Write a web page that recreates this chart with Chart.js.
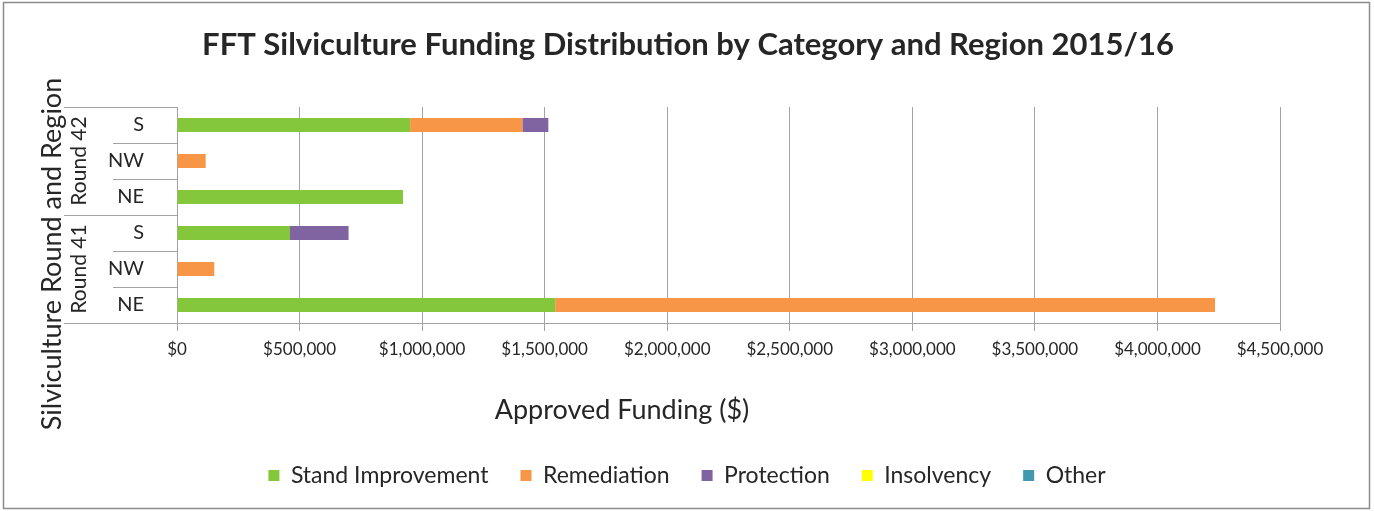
<!DOCTYPE html>
<html>
<head>
<meta charset="utf-8">
<script src="https://cdn.jsdelivr.net/npm/chart.js@4/dist/chart.umd.min.js"></script>
<style>
  body { margin: 0; background: #fff; }
  #wrap { position: relative; width: 1374px; height: 511px; }
</style>
</head>
<body>
<div id="wrap"><canvas id="fundingChart"></canvas></div>
<script>
// rows from top to bottom
const regions = ["S", "NW", "NE", "S", "NW", "NE"];
const rounds = ["Round 42", "Round 42", "Round 42", "Round 41", "Round 41", "Round 41"];

const standImprovement = [951000, 0, 922000, 461000, 0, 1543000];
const remediation = [458000, 117000, 0, 0, 152000, 2692000];
const protection = [106000, 0, 0, 239000, 0, 0];
const insolvency = [0, 0, 0, 0, 0, 0];
const other = [0, 0, 0, 0, 0, 0];

const tickMax = 4500000;
const tickStep = 500000;

const font = "Lato, 'Open Sans', sans-serif";
const textColor = "#262626";
const lineColor = "#a3a3a3";

// group labels, separators, titles and frame
const decorPlugin = {
    id: "decor",
    afterDraw(chart) {
        const ctx = chart.ctx;
        const area = chart.chartArea;
        const y = chart.scales.y;
        const rowH = (area.bottom - area.top) / regions.length;

        ctx.save();
        ctx.strokeStyle = "#8c8c8c";
        ctx.lineWidth = 1.5;
        ctx.strokeRect(3.5, 2.5, 1366, 506);

        ctx.strokeStyle = lineColor;
        ctx.lineWidth = 1;
        // row separators
        for (let i = 0; i <= regions.length; i++) {
            const py = Math.round(y.getPixelForValue(i) - rowH / 2) + 0.5;
            const isGroupEdge = i === 0 || i === regions.length || rounds[i] !== rounds[i - 1];
            ctx.beginPath();
            ctx.moveTo(isGroupEdge ? 64 : 113, py);
            ctx.lineTo(area.left, py);
            ctx.stroke();
        }

        // round labels
        ctx.fillStyle = textColor;
        ctx.textAlign = "center";
        ctx.textBaseline = "middle";
        ctx.font = "21px " + font;
        const groups = [...new Set(rounds)];
        groups.forEach(g => {
            const idx = rounds.map((r, i) => r === g ? i : -1).filter(i => i >= 0);
            const cy = (y.getPixelForValue(idx[0]) + y.getPixelForValue(idx[idx.length - 1])) / 2;
            ctx.save();
            ctx.translate(79, cy);
            ctx.rotate(-Math.PI / 2);
            ctx.fillText(g, 0, 0);
            ctx.restore();
        });

        // y axis title
        ctx.font = "27px " + font;
        ctx.save();
        ctx.translate(52, 254);
        ctx.rotate(-Math.PI / 2);
        ctx.fillText("Silviculture Round and Region", 0, 0);
        ctx.restore();

        // x axis title
        ctx.font = "27px " + font;
        ctx.fillText("Approved Funding ($)", 622, 410);

        // chart title
        ctx.font = "bold 31px " + font;
        ctx.fillText("FFT Silviculture Funding Distribution by Category and Region 2015/16", 688, 45);
        ctx.restore();
    }
};

const makeSet = (label, data, color) => ({
    label: label,
    data: data,
    backgroundColor: color,
    borderWidth: 0,
    categoryPercentage: 1,
    barPercentage: 0.39
});

new Chart(document.getElementById("fundingChart"), {
    type: "bar",
    data: {
        labels: regions,
        datasets: [
            makeSet("Stand Improvement", standImprovement, "#84c73a"),
            makeSet("Remediation", remediation, "#f79646"),
            makeSet("Protection", protection, "#8064a2"),
            makeSet("Insolvency", insolvency, "#ffff00"),
            makeSet("Other", other, "#4198af")
        ]
    },
    options: {
        indexAxis: "y",
        responsive: true,
        maintainAspectRatio: false,
        animation: false,
        layout: { padding: { left: 0, right: 0, top: 107, bottom: 14 } },
        scales: {
            x: {
                stacked: true,
                min: 0,
                max: tickMax,
                ticks: {
                    stepSize: tickStep,
                    padding: 8,
                    color: textColor,
                    font: { family: font, size: 17 },
                    callback: v => "$" + v.toLocaleString("en-US")
                },
                grid: { color: lineColor, tickLength: 8, tickColor: lineColor },
                border: { color: lineColor },
                afterFit: s => { s.height = 109; }
            },
            y: {
                stacked: true,
                ticks: {
                    padding: 25,
                    color: textColor,
                    font: { family: font, size: 20 }
                },
                grid: { display: false },
                border: { color: lineColor },
                afterFit: s => { s.width = 177; }
            },
            // empty right-hand spacer so the legend centres on the whole page
            spacer: {
                type: "category",
                position: "right",
                labels: regions,
                ticks: { display: false },
                grid: { display: false },
                border: { display: false },
                afterFit: s => { s.width = 94; }
            }
        },
        plugins: {
            title: { display: false },
            tooltip: { enabled: false },
            legend: {
                position: "bottom",
                labels: {
                    boxWidth: 11,
                    boxHeight: 11,
                    padding: 32,
                    color: textColor,
                    font: { family: font, size: 23 }
                }
            }
        }
    },
    plugins: [decorPlugin]
});
</script>
</body>
</html>
